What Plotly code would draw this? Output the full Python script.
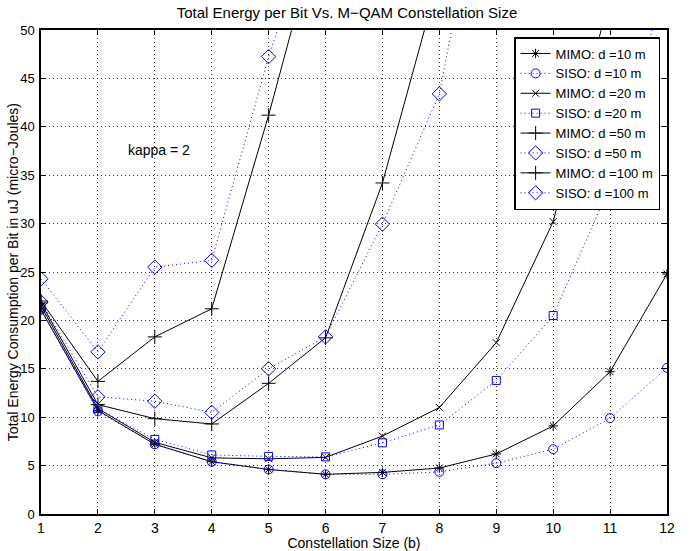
import plotly.graph_objects as go

b = [1, 2, 3, 4, 5, 6, 7, 8, 9, 10, 11, 12]

mimo_10 = [21.1, 10.7, 7.2, 5.4, 4.6, 4.1, 4.3, 4.75, 6.2, 9.1, 14.7, 24.8]
siso_10 = [21.1, 10.6, 7.2, 5.4, 4.6, 4.1, 4.1, 4.35, 5.25, 6.7, 9.9, 15.1]
mimo_20 = [21.5, 10.9, 7.4, 5.8, 5.7, 5.85, 8.05, 11.0, 17.7, 30.2, 53.7, None]
siso_20 = [21.3, 10.9, 7.7, 6.1, 5.95, 5.9, 7.35, 9.2, 13.8, 20.5, 33.9, 55.6]
mimo_50 = [21.8, 11.3, 9.85, 9.3, 13.5, 18.2, 34.2, 55.6, None, None, None, None]
siso_50 = [21.9, 12.1, 11.65, 10.5, 15.0, 18.3, 29.95, 43.4, 74.0, None, None, None]
mimo_100 = [22.0, 13.7, 18.3, 21.2, 41.2, 63.0, None, None, None, None, None, None]
siso_100 = [24.3, 16.75, 25.5, 26.2, 47.25, 65.0, None, None, None, None, None, None]

x_ticks = list(range(1, 13))
y_ticks = [0, 5, 10, 15, 20, 25, 30, 35, 40, 45, 50]

BLUE = "#0000ff"
series = [
    ("MIMO: d =10 m", mimo_10, "black", "solid", "asterisk-open", 8),
    ("SISO: d =10 m", siso_10, BLUE, "1px,3px", "circle-open", 9),
    ("MIMO: d =20 m", mimo_20, "black", "solid", "x-thin-open", 7),
    ("SISO: d =20 m", siso_20, BLUE, "1px,3px", "square-open", 8),
    ("MIMO: d =50 m", mimo_50, "black", "solid", "cross-thin-open", 10),
    ("SISO: d =50 m", siso_50, BLUE, "1px,3px", "diamond-open", 11),
    ("MIMO: d =100 m", mimo_100, "black", "solid", "cross-thin-open", 10),
    ("SISO: d =100 m", siso_100, BLUE, "1px,3px", "diamond-open", 11),
]

fig = go.Figure()
for name, ys, col, dash, sym, sz in series:
    fig.add_trace(go.Scatter(
        x=b, y=ys, name=name, mode="lines+markers",
        line=dict(color=col, width=1, dash=dash),
        marker=dict(symbol=sym, size=sz, color=col, line=dict(color=col, width=1)),
        connectgaps=False,
    ))

fig.add_annotation(x=2.5, y=37.6, text="kappa = 2", showarrow=False,
                   xanchor="left", yanchor="middle",
                   font=dict(size=14, color="black"))

# y-axis title placed as rotated text left of the tick labels
fig.add_annotation(x=-0.0445, y=0.5, xref="paper", yref="paper",
                   text="Total Energy Consumption per Bit in uJ (micro\u2212Joules)",
                   textangle=-90, showarrow=False, xanchor="center", yanchor="middle",
                   font=dict(size=14, color="black"))

axis_common = dict(
    showline=True, linecolor="black", linewidth=1.5, mirror="allticks",
    ticks="inside", ticklen=5, tickcolor="black",
    showgrid=True, gridcolor="#333333", griddash="1px,3px", gridwidth=1,
    zeroline=False, automargin=False,
)

fig.update_layout(
    width=694, height=551,
    margin=dict(l=41, r=27, t=30, b=37),
    paper_bgcolor="white", plot_bgcolor="white",
    font=dict(family="Liberation Sans, Arial, sans-serif", size=14, color="black"),
    title=dict(text="Total Energy per Bit Vs. M\u2212QAM Constellation Size",
               x=0.5, xanchor="center", y=1 - 13 / 551, yanchor="middle",
               font=dict(size=15)),
    xaxis=dict(range=[1, 12], tickvals=x_ticks, tickfont=dict(size=14, color="black"),
               title=dict(text="Constellation Size (b)", standoff=0, font=dict(size=14)),
               **axis_common),
    yaxis=dict(range=[0, 50], tickvals=y_ticks, tickfont=dict(size=13, color="black"),
               ticklabelstandoff=2, **axis_common),
    legend=dict(x=0.989, y=0.9855, xanchor="right", yanchor="top",
                bgcolor="white", bordercolor="black", borderwidth=1.5,
                font=dict(size=13), tracegroupgap=0, itemwidth=30),
    showlegend=True,
)

fig.write_html("out.html", post_script="document.body.style.margin='0';",
               config={"displayModeBar": False})
